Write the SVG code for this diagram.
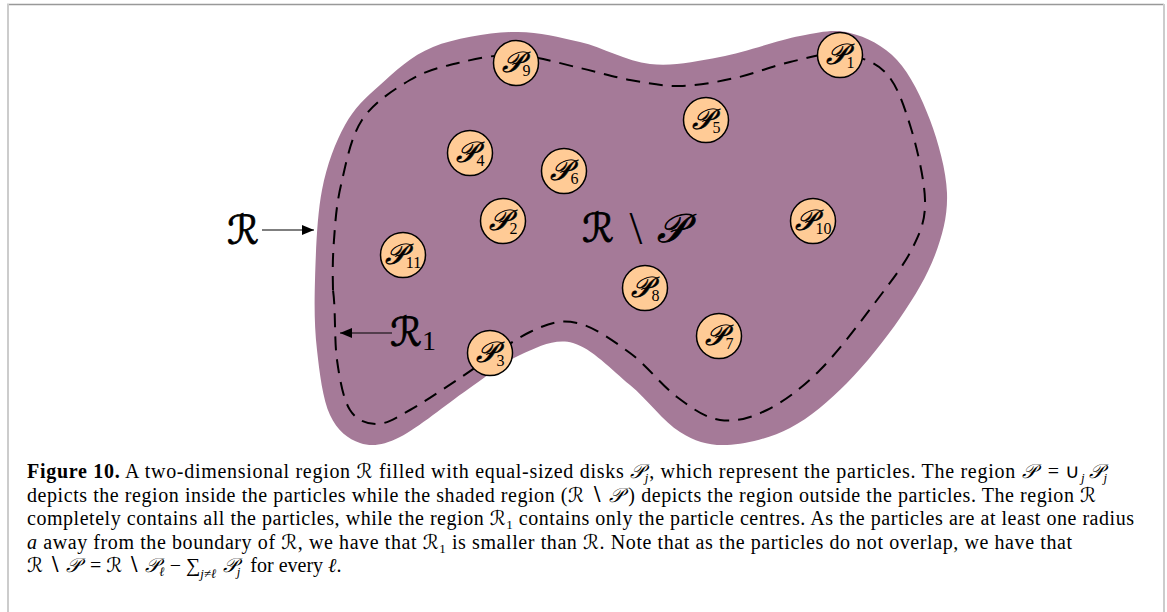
<svg xmlns="http://www.w3.org/2000/svg" width="1167" height="612" viewBox="0 0 1167 612">
<style>
.frame-top{stroke:#999;stroke-width:1.5;fill:none}
.frame-side{stroke:#ccc;stroke-width:2;fill:none}
.region{fill:#A57A98;stroke:none}
.r1{fill:none;stroke:#000;stroke-width:2;stroke-dasharray:14 9}
.disk{fill:#FFCB96;stroke:#000;stroke-width:1.5}
.pl{font-family:"DejaVu Serif","DejaVu Sans",serif;font-size:29px;font-style:italic;text-anchor:middle;fill:#000;stroke:#000;stroke-width:0.5}
.ps{font-family:"Liberation Serif",serif;font-size:16px;font-style:normal;stroke-width:0}
.big{font-family:"DejaVu Serif","DejaVu Sans",serif;font-size:40px;font-style:italic;fill:#000;stroke:#000;stroke-width:0.8}
.bs{font-family:"Liberation Serif",serif;font-size:46px;fill:#000}
.arrow{stroke:#000;stroke-width:1.2;fill:none}
.cap{font-family:"Liberation Serif","Times New Roman",serif;font-size:20px;fill:#000}
.m{font-family:"DejaVu Serif","DejaVu Sans",serif;font-style:italic}
.s{font-size:13px}
.i{font-style:italic}
</style>
<defs>
<marker id="ah" markerWidth="12" markerHeight="10" refX="12" refY="5" orient="auto" markerUnits="userSpaceOnUse">
<path d="M0,0 L12,5 L0,10 Z" fill="#000"/>
</marker>
</defs>
<rect x="0" y="0" width="1167" height="612" fill="#fff"/>
<line class="frame-top" x1="7" y1="4.5" x2="1164" y2="4.5"/>
<line class="frame-side" x1="8" y1="4" x2="8" y2="612"/>
<line class="frame-side" x1="1164" y1="4" x2="1164" y2="612"/>

<g id="region-R">
<path class="region" d="M315,280 C315.8,253.3 317,215.8 322,190 S335.3,142.5 345,125 S365.3,98 380,85 S410.8,55.8 433,47 S488.5,32.8 513,32 S557.2,36.7 580,42 S626.7,61.5 650,64 S695,61.7 720,57 S778.3,40 800,36 S833.8,29 850,33 S883.7,45.5 897,60 S921.7,97.8 930,120 S946.2,170.5 947,193 S942.8,234.2 935,255 S914.7,296.7 900,318 S865.3,364.7 847,383 S810,417.7 790,428 S745.3,444.3 727,445 S696.2,442 680,432 S647.8,399.8 630,385 S591.3,348 573,343 S537.7,347.2 520,355 S487,376.3 467,390 S417.8,428.2 400,437 S371.7,446.7 360,443 S337.2,430.5 330,415 S319.5,372.5 317,350 S314.2,306.7 315,280 Z"/>
</g>
<g id="region-R1">
<path class="r1" d="M333,290 C332.5,270 332.7,257.5 334,240 S336.3,205 341,185 S350.5,137.5 362,120 S394,89.5 410,80 S440.3,67.2 458,63 S495.7,54.2 516,55 S561,63.8 580,68 S613.3,77 630,80 S662.5,86.3 680,86 S716.7,82 735,78 S772.5,66 790,62 S824.2,52.3 840,54 S873.3,60.2 885,72 S903.3,103.7 910,125 S924.5,179.7 925,200 S921,230.3 913,247 S892.5,279.5 877,300 S838.3,351.7 820,370 S783.7,401.7 767,410 S735,422.2 720,420 S692,408.2 677,397 S646.7,365.3 630,353 S593.7,326.5 577,323 S550,322.5 530,332 S477,367 457,380 S423.3,402.7 410,410 S387,424 377,424 S356.7,420.7 350,410 S339.8,380 337,360 S335.8,310 333,290 Z"/>
</g>

<g id="P1"><circle class="disk" cx="840" cy="55" r="22.5"/><text class="pl" x="840" y="64">𝒫<tspan class="ps" dy="4">1</tspan></text></g>
<g id="P2"><circle class="disk" cx="503" cy="221" r="22.5"/><text class="pl" x="503" y="230">𝒫<tspan class="ps" dy="4">2</tspan></text></g>
<g id="P3"><circle class="disk" cx="490" cy="353" r="22.5"/><text class="pl" x="490" y="362">𝒫<tspan class="ps" dy="4">3</tspan></text></g>
<g id="P4"><circle class="disk" cx="470" cy="153" r="22.5"/><text class="pl" x="470" y="162">𝒫<tspan class="ps" dy="4">4</tspan></text></g>
<g id="P5"><circle class="disk" cx="706" cy="120" r="22.5"/><text class="pl" x="706" y="129">𝒫<tspan class="ps" dy="4">5</tspan></text></g>
<g id="P6"><circle class="disk" cx="564" cy="171" r="22.5"/><text class="pl" x="564" y="180">𝒫<tspan class="ps" dy="4">6</tspan></text></g>
<g id="P7"><circle class="disk" cx="719" cy="336" r="22.5"/><text class="pl" x="719" y="345">𝒫<tspan class="ps" dy="4">7</tspan></text></g>
<g id="P8"><circle class="disk" cx="645" cy="288" r="22.5"/><text class="pl" x="645" y="297">𝒫<tspan class="ps" dy="4">8</tspan></text></g>
<g id="P9"><circle class="disk" cx="516" cy="63" r="22.5"/><text class="pl" x="516" y="72">𝒫<tspan class="ps" dy="4">9</tspan></text></g>
<g id="P10"><circle class="disk" cx="813" cy="221" r="22.5"/><text class="pl" x="813" y="230">𝒫<tspan class="ps" dy="4">10</tspan></text></g>
<g id="P11"><circle class="disk" cx="403" cy="255" r="22.5"/><text class="pl" x="403" y="264">𝒫<tspan class="ps" dy="4">11</tspan></text></g>

<g id="label-R"><text class="big" x="243" y="244" text-anchor="middle">ℛ</text></g>
<g id="label-R1"><text class="big" x="390" y="346">ℛ<tspan font-family="Liberation Serif" font-style="normal" font-size="28px" stroke-width="0" dy="4">1</tspan></text></g>
<g id="label-RminusP">
<text class="big" x="598" y="242" text-anchor="middle">ℛ</text>
<text class="bs" x="636" y="244" text-anchor="middle">\</text>
<text class="big" x="671" y="242" text-anchor="middle">𝒫</text>
</g>

<g id="connectors">
<line class="arrow" x1="262" y1="230" x2="314" y2="230" marker-end="url(#ah)"/>
<line class="arrow" x1="392" y1="333" x2="340" y2="333" marker-end="url(#ah)"/>
</g>

<g id="caption">
<text class="cap" x="27" y="478" textLength="1080" lengthAdjust="spacing"><tspan font-weight="bold">Figure 10.</tspan> A two-dimensional region <tspan class="m">ℛ</tspan> filled with equal-sized disks <tspan class="m">𝒫</tspan><tspan class="s i" dy="4">j</tspan><tspan dy="-4">, which represent the particles. The region </tspan><tspan class="m">𝒫</tspan>&#160;&#160;=&#160;∪<tspan class="s i" dy="4">j&#8201;</tspan><tspan class="m" dy="-4">𝒫</tspan><tspan class="s i" dy="4">j</tspan></text>
<text class="cap" x="27" y="501.5" textLength="1069" lengthAdjust="spacing">depicts the region inside the particles while the shaded region (<tspan class="m">ℛ</tspan> ∖ <tspan class="m">𝒫</tspan>&#8201;) depicts the region outside the particles. The region <tspan class="m">ℛ</tspan></text>
<text class="cap" x="27" y="525" textLength="1107" lengthAdjust="spacing">completely contains all the particles, while the region <tspan class="m">ℛ</tspan><tspan class="s" dy="4">1</tspan><tspan dy="-4"> contains only the particle centres. As the particles are at least one radius</tspan></text>
<text class="cap" x="27" y="548.5" textLength="1045" lengthAdjust="spacing"><tspan class="i">a</tspan> away from the boundary of <tspan class="m">ℛ</tspan>, we have that <tspan class="m">ℛ</tspan><tspan class="s" dy="4">1</tspan><tspan dy="-4"> is smaller than </tspan><tspan class="m">ℛ</tspan>. Note that as the particles do not overlap, we have that</text>
<text class="cap" x="27" y="572"><tspan class="m">ℛ</tspan> ∖ <tspan class="m">𝒫</tspan>&#160;&#160;=&#160;<tspan class="m">ℛ</tspan> ∖ <tspan class="m">𝒫</tspan><tspan class="s i" dy="4">ℓ</tspan><tspan dy="-4"> − ∑</tspan><tspan class="s i" dy="6">j≠ℓ</tspan><tspan class="m" dy="-6"> 𝒫</tspan><tspan class="s i" dy="4">j</tspan><tspan dy="-4">&#160; for every </tspan><tspan class="i">ℓ</tspan>.</text>
</g>
</svg>
